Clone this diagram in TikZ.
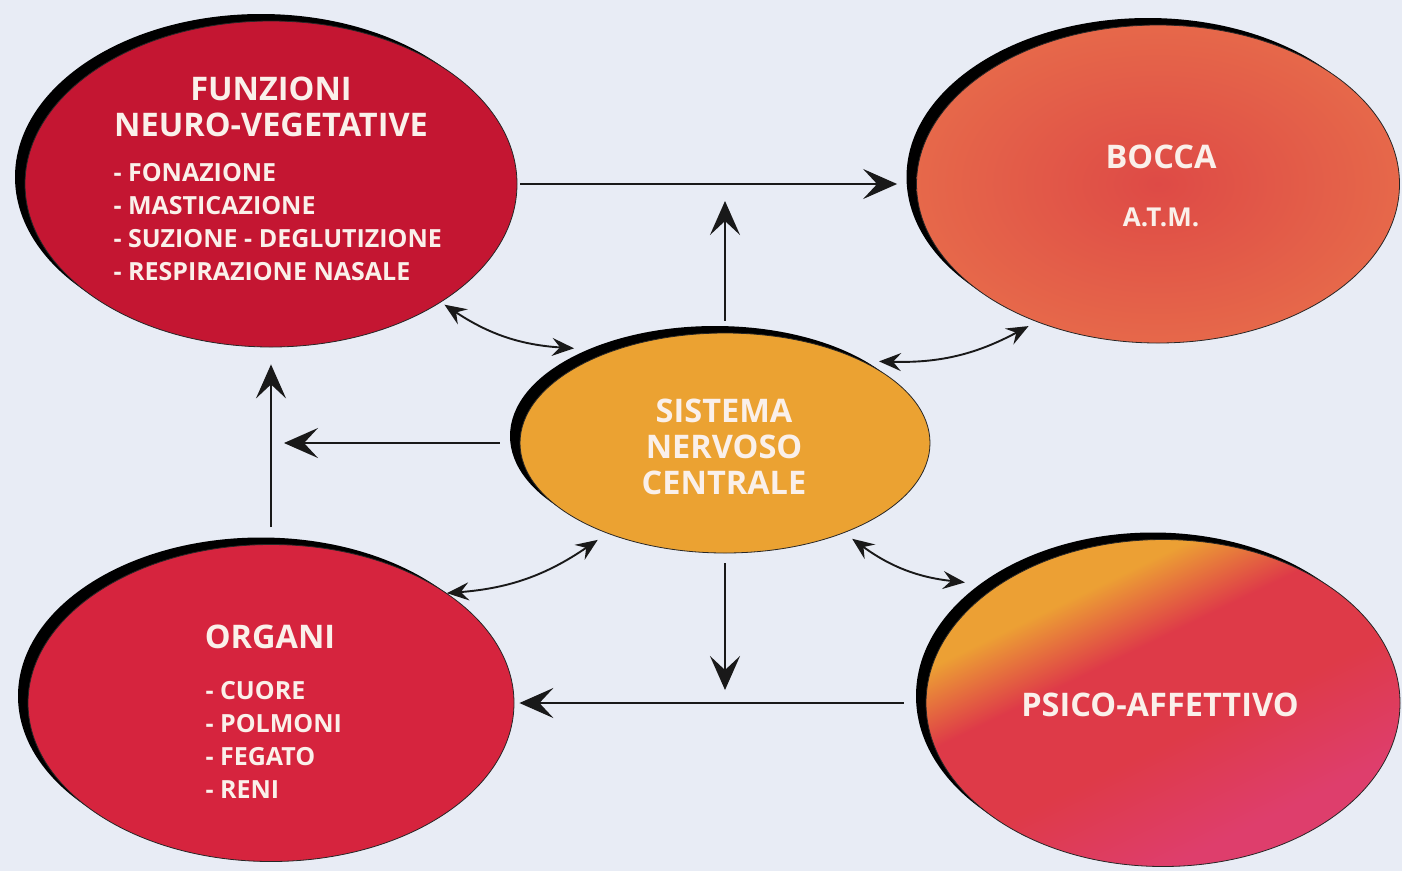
\documentclass[tikz,border=0pt]{standalone}
\usepackage{fontspec}
\setmainfont{Open Sans}
\usepackage{xcolor}
\usepackage{tikz}
\usetikzlibrary{positioning,arrows.meta,shapes.geometric,shadows,calc}

\definecolor{bgpaper}{RGB}{232,236,245}
\definecolor{fnvred}{RGB}{196,22,50}
\definecolor{orgred}{RGB}{214,36,62}
\definecolor{boccain}{RGB}{222,74,70}
\definecolor{boccaout}{RGB}{230,104,74}
\definecolor{sncorange}{RGB}{235,162,50}
\definecolor{psorange}{RGB}{236,160,52}
\definecolor{psred}{RGB}{222,58,72}
\definecolor{pspink}{RGB}{222,62,108}
\definecolor{cream}{RGB}{250,240,234}

\pgfdeclareverticalshading{psicoshade}{100bp}{color(0bp)=(pspink); color(30bp)=(pspink); color(45bp)=(psred); color(58bp)=(psred); color(68bp)=(psorange); color(100bp)=(psorange)}

\begin{document}
\begin{tikzpicture}[x=1pt, y=-1pt,
  blob/.style={ellipse, draw=black!85, line width=0.8pt, inner sep=0pt,
    drop shadow={shadow xshift=-10pt, shadow yshift=7pt, fill=black, opacity=1}},
  ttl/.style={text=cream, font=\bfseries\fontsize{32.5}{36}\selectfont, align=center},
  lst/.style={text=cream, font=\bfseries\fontsize{25}{33}\selectfont, align=left},
  link/.style={line width=2.2pt, draw=black!90},
  bigtip/.style={link, -{Stealth[length=34pt,width=30pt,inset=14pt]}},
  twotip/.style={link, line width=1.9pt,
    {Stealth[length=22pt,width=18pt,inset=8pt]}-{Stealth[length=22pt,width=18pt,inset=8pt]}}]

  \useasboundingbox (0,0) rectangle (1402,871);
  \fill[bgpaper] (0,0) rectangle (1402,871);

  % Ellipses
  \node[blob, fill=fnvred, minimum width=492pt, minimum height=326pt] (fnv) at (271,184) {};
  \node[blob, inner color=boccain, outer color=boccaout, minimum width=483pt, minimum height=318pt] (bocca) at (1158,184) {};
  \node[blob, fill=sncorange, minimum width=410pt, minimum height=220pt] (snc) at (725,443) {};
  \node[blob, fill=orgred, minimum width=486pt, minimum height=317pt] (organi) at (271,703) {};
  \node[blob, shading=psicoshade, shading angle=26, minimum width=474pt, minimum height=327pt] (psico) at (1163,703) {};

  % Texts
  \node[ttl] (fnv-title) at (271,107) {FUNZIONI\\NEURO-VEGETATIVE};
  \node[lst, anchor=west] (fnv-list) at (110,222) {- FONAZIONE\\- MASTICAZIONE\\- SUZIONE - DEGLUTIZIONE\\- RESPIRAZIONE NASALE};
  \node[ttl] (bocca-title) at (1161,157) {BOCCA};
  \node[ttl, font=\bfseries\fontsize{26}{30}\selectfont] (bocca-sub) at (1161,217) {A.T.M.};
  \node[ttl] (snc-title) at (724,447) {SISTEMA\\NERVOSO\\CENTRALE};
  \node[ttl] (organi-title) at (270,637) {ORGANI};
  \node[lst, anchor=west] (organi-list) at (202,740) {- CUORE\\- POLMONI\\- FEGATO\\- RENI};
  \node[ttl] (psico-title) at (1160,705) {PSICO-AFFETTIVO};

  % Straight arrows
  \draw[bigtip, shorten <=3pt, shorten >=19pt] (fnv.east) -- (bocca.west);
  \draw[bigtip, shorten <=12pt, shorten >=17pt] (snc.north) -- (snc.north |- fnv.east);
  \draw[bigtip, shorten <=20pt, shorten >=13pt] (snc.west) -- (snc.west -| organi.north);
  \draw[bigtip, shorten <=17pt, shorten >=17pt] (organi.north) -- (fnv.south);
  \draw[bigtip, shorten <=10pt, shorten >=13pt] (snc.south) -- (snc.south |- psico.west);
  \draw[bigtip, shorten <=22pt, shorten >=5pt] (psico.west) -- (organi.east);

  % Curved double arrows
  \draw[twotip] ($(fnv.-35)+(4,2)$) to[bend right=15] ($(snc.148)+(-17,-11)$);
  \draw[twotip] ($(snc.28)+(8,-4)$) to[bend right=15] ($(bocca.228)+(-6,5)$);
  \draw[twotip] (organi.32) to[bend right=15] ($(snc.217)+(-8,7)$);
  \draw[twotip] ($(snc.-36)+(5,7)$) to[bend right=15] ($(psico.149)+(-19,-13)$);

\end{tikzpicture}
\end{document}
